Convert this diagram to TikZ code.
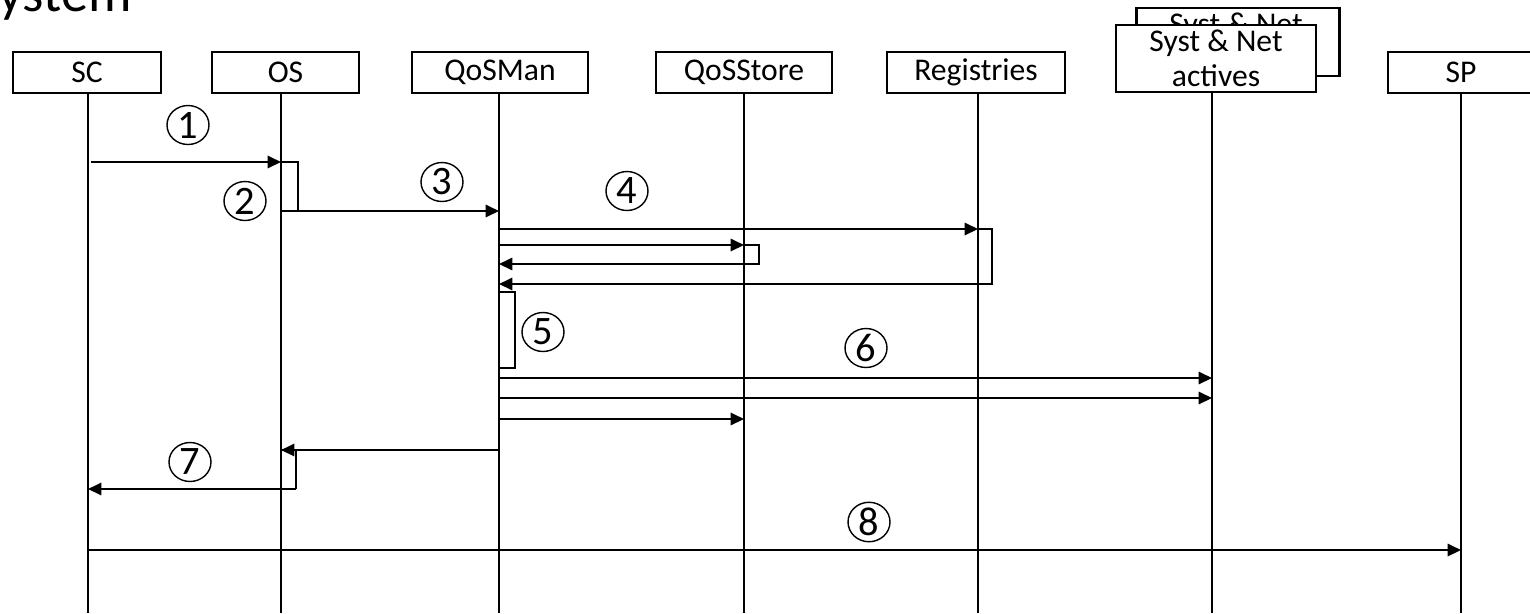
\documentclass[tikz,border=0pt]{standalone}
\usepackage{fontspec}
\setmainfont{Carlito}
\usetikzlibrary{arrows.meta,shapes.geometric}
\begin{document}
\begin{tikzpicture}[x=0.02cm,y=-0.02cm,
  actor/.style={draw,line width=1.4pt,fill=white,inner sep=0pt,minimum height=0.82cm,font=\fontsize{18}{19.8}\selectfont,align=center},
  life/.style={line width=1.2pt},
  msg/.style={line width=1.2pt,-{Triangle[length=7.6pt,width=7pt]}},
  seg/.style={line width=1.2pt},
  num/.style={draw,ellipse,line width=0.8pt,inner sep=0pt,minimum width=0.84cm,minimum height=0.78cm,font=\fontsize{23}{23}\selectfont}]
\useasboundingbox (0,0) rectangle (1530,613);
\node[anchor=base west,inner sep=0pt,font=\fontsize{31}{31}\selectfont] (title) at (-26,11) {System};

% actors
\node[actor,minimum width=2.96cm] (sc) at (87,72.5) {SC};
\node[actor,minimum width=2.94cm] (os) at (285.5,72.5) {OS};
\node[actor,minimum width=3.52cm] (qm) at (500,72.5) {QoSMan};
\node[actor,minimum width=3.52cm] (qs) at (744,72.5) {QoSStore};
\node[actor,minimum width=3.56cm] (rg) at (976,72.5) {Registries};
\node[actor,minimum width=4.06cm,minimum height=1.36cm] (sysb) at (1238,42) {};
\node[anchor=base,inner sep=0pt,font=\fontsize{18}{19.8}\selectfont] (sysbt) at (1236,34) {Syst \& Net};
\node[actor,minimum width=4.0cm,minimum height=1.34cm] (sys) at (1216,58.5) {Syst \& Net\\actives};
\node[actor,minimum width=2.92cm] (sp) at (1461,72.5) {SP};

% lifelines
\coordinate (scB) at (88,613);
\coordinate (osB) at (281,613);
\coordinate (qmB) at (499,613);
\coordinate (qsB) at (744,613);
\coordinate (rgB) at (978,613);
\coordinate (syB) at (1212,613);
\coordinate (spB) at (1461,613);
\draw[life] (sc.south -| scB) -- (scB);
\draw[life] (os.south -| osB) -- (osB);
\draw[life] (qm.south -| qmB) -- (qmB);
\draw[life] (qs.south -| qsB) -- (qsB);
\draw[life] (rg.south -| rgB) -- (rgB);
\draw[life] (sys.south -| syB) -- (syB);
\draw[life] (sp.south -| spB) -- (spB);

% 1 and 2
\coordinate (p1s) at (91,162); \coordinate (p1e) at (281,162);
\draw[msg] (p1s) -- (p1e);
\coordinate (b2a) at (298,162); \coordinate (b2b) at (298,211); \coordinate (p3s) at (281,211);
\draw[seg] (p1e) -- (b2a) -- (b2b) -- (p3s);
% 3
\coordinate (p3e) at (499,211);
\draw[msg] (p3s) -- (p3e);
% 4
\coordinate (p4s) at (499,229); \coordinate (p4e) at (978,229);
\coordinate (r4a) at (992,229); \coordinate (r4b) at (992,284); \coordinate (r4e) at (499,284);
\draw[msg] (p4s) -- (p4e);
\draw[msg] (p4e) -- (r4a) -- (r4b) -- (r4e);
\coordinate (q4s) at (499,245); \coordinate (q4e) at (744,245);
\coordinate (q4a) at (759,245); \coordinate (q4b) at (759,264); \coordinate (q4r) at (499,264);
\draw[msg] (q4s) -- (q4e);
\draw[msg] (q4e) -- (q4a) -- (q4b) -- (q4r);
% 5
\coordinate (s5a) at (499,292); \coordinate (s5b) at (515,368);
\draw[seg] (s5a) rectangle (s5b);
% 6
\coordinate (p6s) at (499,378); \coordinate (p6e) at (1212,378);
\draw[msg] (p6s) -- (p6e);
\coordinate (p6bs) at (499,398); \coordinate (p6be) at (1212,398);
\draw[msg] (p6bs) -- (p6be);
\coordinate (p6cs) at (499,419); \coordinate (p6ce) at (744,419);
\draw[msg] (p6cs) -- (p6ce);
% 7
\coordinate (p7s) at (499,450); \coordinate (p7e) at (281,450);
\coordinate (b7a) at (296,450); \coordinate (b7b) at (296,489); \coordinate (p7f) at (88,489);
\draw[seg] (p7e) -- (b7a) -- (b7b);
\draw[msg] (p7s) -- (p7e);
\draw[msg] (b7b) -- (p7f);
% 8
\coordinate (p8s) at (88,550); \coordinate (p8e) at (1461,550);
\draw[msg] (p8s) -- (p8e);

% labels
\node[num] (n1) at (188,125) {1};
\node[num] (n2) at (245,201) {2};
\node[num] (n3) at (442,182) {3};
\node[num] (n4) at (627,191) {4};
\node[num] (n5) at (543,332) {5};
\node[num] (n6) at (866,348) {6};
\node[num] (n7) at (190,462) {7};
\node[num] (n8) at (869,522) {8};
\end{tikzpicture}
\end{document}
